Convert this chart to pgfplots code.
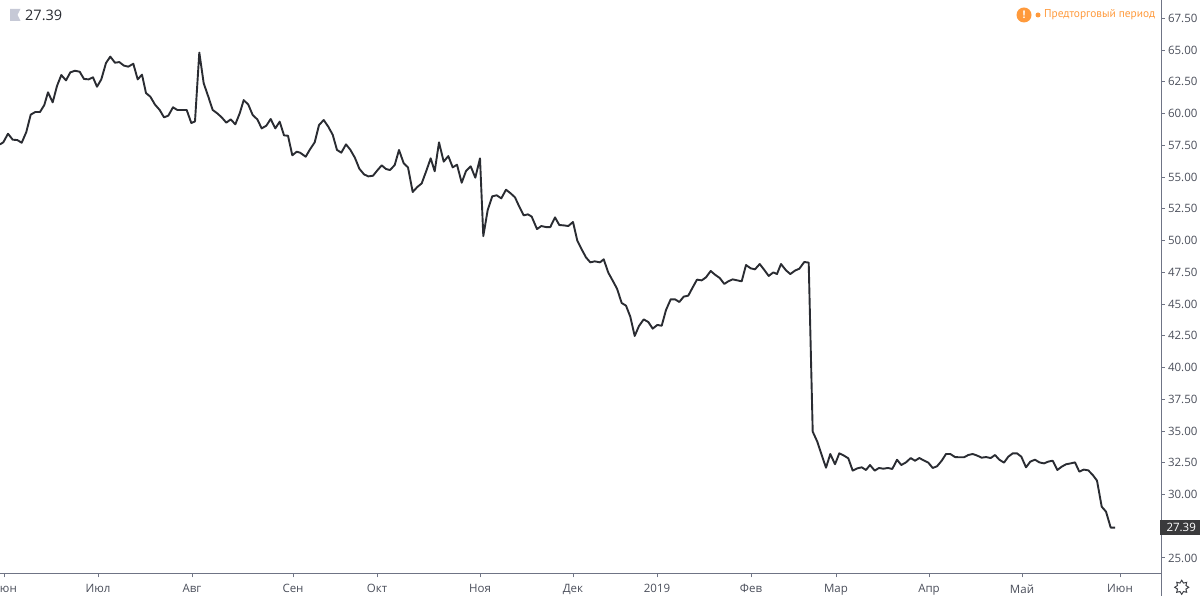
\documentclass[border=0pt]{standalone}
\usepackage{fontspec}
\setmainfont{Open Sans}
\newfontfamily\noticefont{PT Sans}
\usepackage{pgfplots}
\pgfplotsset{compat=1.18}
\definecolor{lineC}{HTML}{2A2C32}
\definecolor{axisC}{HTML}{6F7485}
\definecolor{textC}{HTML}{4A4E5A}
\definecolor{priceBox}{HTML}{3A3A3C}
\definecolor{flagC}{HTML}{C6C9D6}
\definecolor{warnC}{HTML}{FF9A3C}

\begin{document}
\begin{tikzpicture}[x=1pt,y=1pt]
\useasboundingbox (0,0) rectangle (1200,596);
\clip (0,0) rectangle (1200,596);
\begin{axis}[
    at={(0pt,22pt)},
    anchor=south west,
    scale only axis,
    width=1161pt,
    height=574pt,
    xmin=0, xmax=1161,
    ymin=23.74, ymax=68.94,
    axis x line*=bottom,
    axis y line*=right,
    axis line style={-,color=axisC,line width=1pt},
    tick style={color=axisC,line width=1pt},
    tick align=outside,
    major tick length=3.5pt,
    xtick={4,98,192,293,377,480,573,657,751,836,929,1022,1120},
    xticklabels={Июн,Июл,Авг,Сен,Окт,Ноя,Дек,2019,Фев,Мар,Апр,Май,Июн},
    ytick={25,27.5,...,67.5},
    extra y ticks={27.39},
    extra y tick labels={\textcolor{white}{27.39}},
    extra y tick style={
        tick label style={fill=priceBox,minimum width=43pt,minimum height=15pt,
            inner sep=0pt,xshift=-5pt,align=center},
    },
    x tick label style={font=\fontsize{11.5}{13}\selectfont,text=textC,yshift=-3.5pt},
    y tick label style={font=\fontsize{11.5}{13}\selectfont,text=textC},
    /pgf/number format/assume math mode=true,
    /pgf/number format/fixed,
    /pgf/number format/fixed zerofill,
    /pgf/number format/precision=2,
    clip=true,
]
\addplot[color=lineC,line width=1.9pt,line join=round,no markers] coordinates {
(0,57.57) (3.3,57.73) (8,58.41) (12.7,57.94) (17.3,57.91) (21.7,57.70) (26.3,58.54) (30.7,59.91)
(35.3,60.12) (40,60.12) (44.3,60.67) (48,61.67) (52.7,60.88) (57,62.17) (61.3,63.03) (66,62.61)
(70.3,63.24) (75,63.37) (79.7,63.29) (84,62.72) (88.7,62.69) (93,62.85) (97,62.11) (101.3,62.69)
(106,63.98) (110.3,64.48) (115,64.00) (119.3,64.05) (124,63.77) (128.3,63.69) (133.3,63.92) (137.7,62.69)
(142,63.06) (146,61.61) (150.3,61.33) (155,60.70) (159.7,60.28) (164,59.70) (168.3,59.83) (173,60.49)
(177.3,60.28) (182,60.28) (186.7,60.28) (191.3,59.25) (195,59.38) (199.3,64.80) (203.7,62.38) (208.3,61.33)
(212.7,60.28) (217.3,60.01) (221.7,59.70) (226.3,59.28) (230.7,59.54) (235.3,59.15) (239.7,60.01) (243.7,61.06)
(248.3,60.70) (252.7,59.88) (257.3,59.54) (261.7,58.83) (266.3,59.04) (270.7,59.57) (275.3,58.83) (279.7,59.36)
(284,58.28) (288,58.25) (292.3,56.71) (296.7,56.99) (300,56.92)
(305.7,56.60) (310,57.18) (314.7,57.73) (319,59.09) (323.7,59.49) (328.3,58.96) (332.7,58.33) (337,57.13)
(341.3,56.92) (346,57.57) (350.3,57.15) (355,56.50) (359.3,55.66) (364,55.21) (368.3,55.05) (373,55.10)
(377.3,55.52) (381.7,55.92) (386,55.63) (390,55.55) (394.7,55.94) (399,57.13) (403.7,56.08) (408,55.76)
(412.7,53.82) (417,54.19) (421.7,54.50) (426,55.42) (430.7,56.47) (434.7,55.45) (439,57.73) (443.7,56.21)
(448.3,56.65) (452.7,55.76) (457,55.97) (461.7,54.55) (466,55.47) (470.7,55.84) (475.3,54.95) (480,56.47)
(483.3,50.35) (487.7,52.40) (492.3,53.48) (496.7,53.56) (501.3,53.32) (506,54.00) (510.7,53.71) (515,53.40)
(519.3,52.66) (523.7,51.98) (528,52.06) (531.7,51.88) (537,50.90) (541.3,51.14) (546,51.06) (550.3,51.06)
(555,51.82) (559.3,51.22) (564,51.19) (568.3,51.14) (573,51.46) (577.3,49.99) (581.7,49.30) (586,48.67)
(590.3,48.28) (594.7,48.36) (600,48.28)
(603.7,48.52) (608.3,47.47) (612.7,46.84) (617,46.21) (621.7,45.08) (626,44.87) (630.3,44.00) (634.7,42.48)
(639,43.27) (643.7,43.79) (648.3,43.58) (652.7,43.06) (657.3,43.35) (661.7,43.29) (666,44.53) (670.7,45.37)
(675,45.37) (679.3,45.16) (683.7,45.58) (688.3,45.66) (692.7,46.31) (697,46.92) (701.7,46.86) (706,47.10)
(710.7,47.60) (715,47.31) (719.7,47.05) (724.3,46.58) (728.3,46.79) (732.7,46.94) (737.3,46.86) (741.7,46.79)
(746,48.07) (750.7,47.81) (755,47.73) (759.7,48.15) (764.3,47.68) (768.7,47.21) (773.3,47.49) (777,47.36)
(781,48.15) (786,47.65) (790.3,47.36) (795,47.63) (799.3,47.78) (804.3,48.31) (808.7,48.26)
(812.7,34.95) (817.3,34.16) (821.7,33.11) (826,32.11) (830.3,33.19) (835,32.38) (839.3,33.24) (844,33.06)
(848.3,32.85) (852.7,31.88) (857.3,32.06) (861.7,32.14) (866,31.93) (870,32.32) (874.7,31.88) (879,32.09)
(883.3,32.03) (888,32.09) (892.3,32.01) (897,32.74) (901.3,32.32) (906,32.53) (910.7,32.87) (915,32.66)
(919.3,32.87) (923.7,32.69) (928.3,32.51) (932.7,32.09) (937,32.22) (941.7,32.66) (946,33.19) (950.3,33.19)
(955,32.95) (959.3,32.93) (964,32.93) (968.3,33.11) (972.7,33.19) (977.3,33.06) (981.7,32.90) (986,32.95)
(990.7,32.87) (995,33.11) (999.3,32.74) (1004,32.51) (1008.3,32.98) (1012.7,33.24) (1017,33.24) (1021.3,32.98)
(1026,32.14) (1030.3,32.59) (1035,32.74) (1039.3,32.53) (1044,32.45) (1048.3,32.59) (1052.7,32.66) (1057.3,31.93)
(1061.7,32.19) (1066,32.38) (1070.7,32.45) (1075,32.53) (1079.3,31.80) (1083.7,31.96) (1088.3,31.90) (1092.7,31.54)
(1097,31.09) (1101.7,29.04) (1106,28.65) (1110.7,27.39) (1115,27.39)
};
\end{axis}
% right rule runs down past the time scale
\draw[color=axisC,line width=1pt] (1161,0) -- (1161,22);
% last price, top left
\fill[flagC] (10,587) -- (20.5,587) -- (17.5,581) -- (20.5,575) -- (10,575) -- cycle;
\node[anchor=west,inner sep=0pt,text=lineC,font=\fontsize{14.5}{17}\selectfont] at (25,581) {27.39};
% session notice
\fill[warnC] (1024,581) circle (7.5);
\node[text=white,inner sep=0pt,font=\bfseries\fontsize{10.5}{12}\selectfont] at (1024,581) {!};
\fill[warnC] (1038,581) circle (2.5);
\node[anchor=west,inner sep=0pt,text=warnC,font=\noticefont\fontsize{11.4}{14}\selectfont] at (1044,581) {Предторговый период};
% settings icon
\draw[color=lineC!90,line width=1pt,line join=miter] (1188.7,8.7)
  -- (1181.7+4.6*cos 22.5,8.7+4.6*sin 22.5) -- (1181.7+7*cos 45,8.7+7*sin 45)
  -- (1181.7+4.6*cos 67.5,8.7+4.6*sin 67.5) -- (1181.7,15.7)
  -- (1181.7-4.6*cos 67.5,8.7+4.6*sin 67.5) -- (1181.7-7*cos 45,8.7+7*sin 45)
  -- (1181.7-4.6*cos 22.5,8.7+4.6*sin 22.5) -- (1174.7,8.7)
  -- (1181.7-4.6*cos 22.5,8.7-4.6*sin 22.5) -- (1181.7-7*cos 45,8.7-7*sin 45)
  -- (1181.7-4.6*cos 67.5,8.7-4.6*sin 67.5) -- (1181.7,1.7)
  -- (1181.7+4.6*cos 67.5,8.7-4.6*sin 67.5) -- (1181.7+7*cos 45,8.7-7*sin 45)
  -- (1181.7+4.6*cos 22.5,8.7-4.6*sin 22.5) -- cycle;
\end{tikzpicture}
\end{document}
